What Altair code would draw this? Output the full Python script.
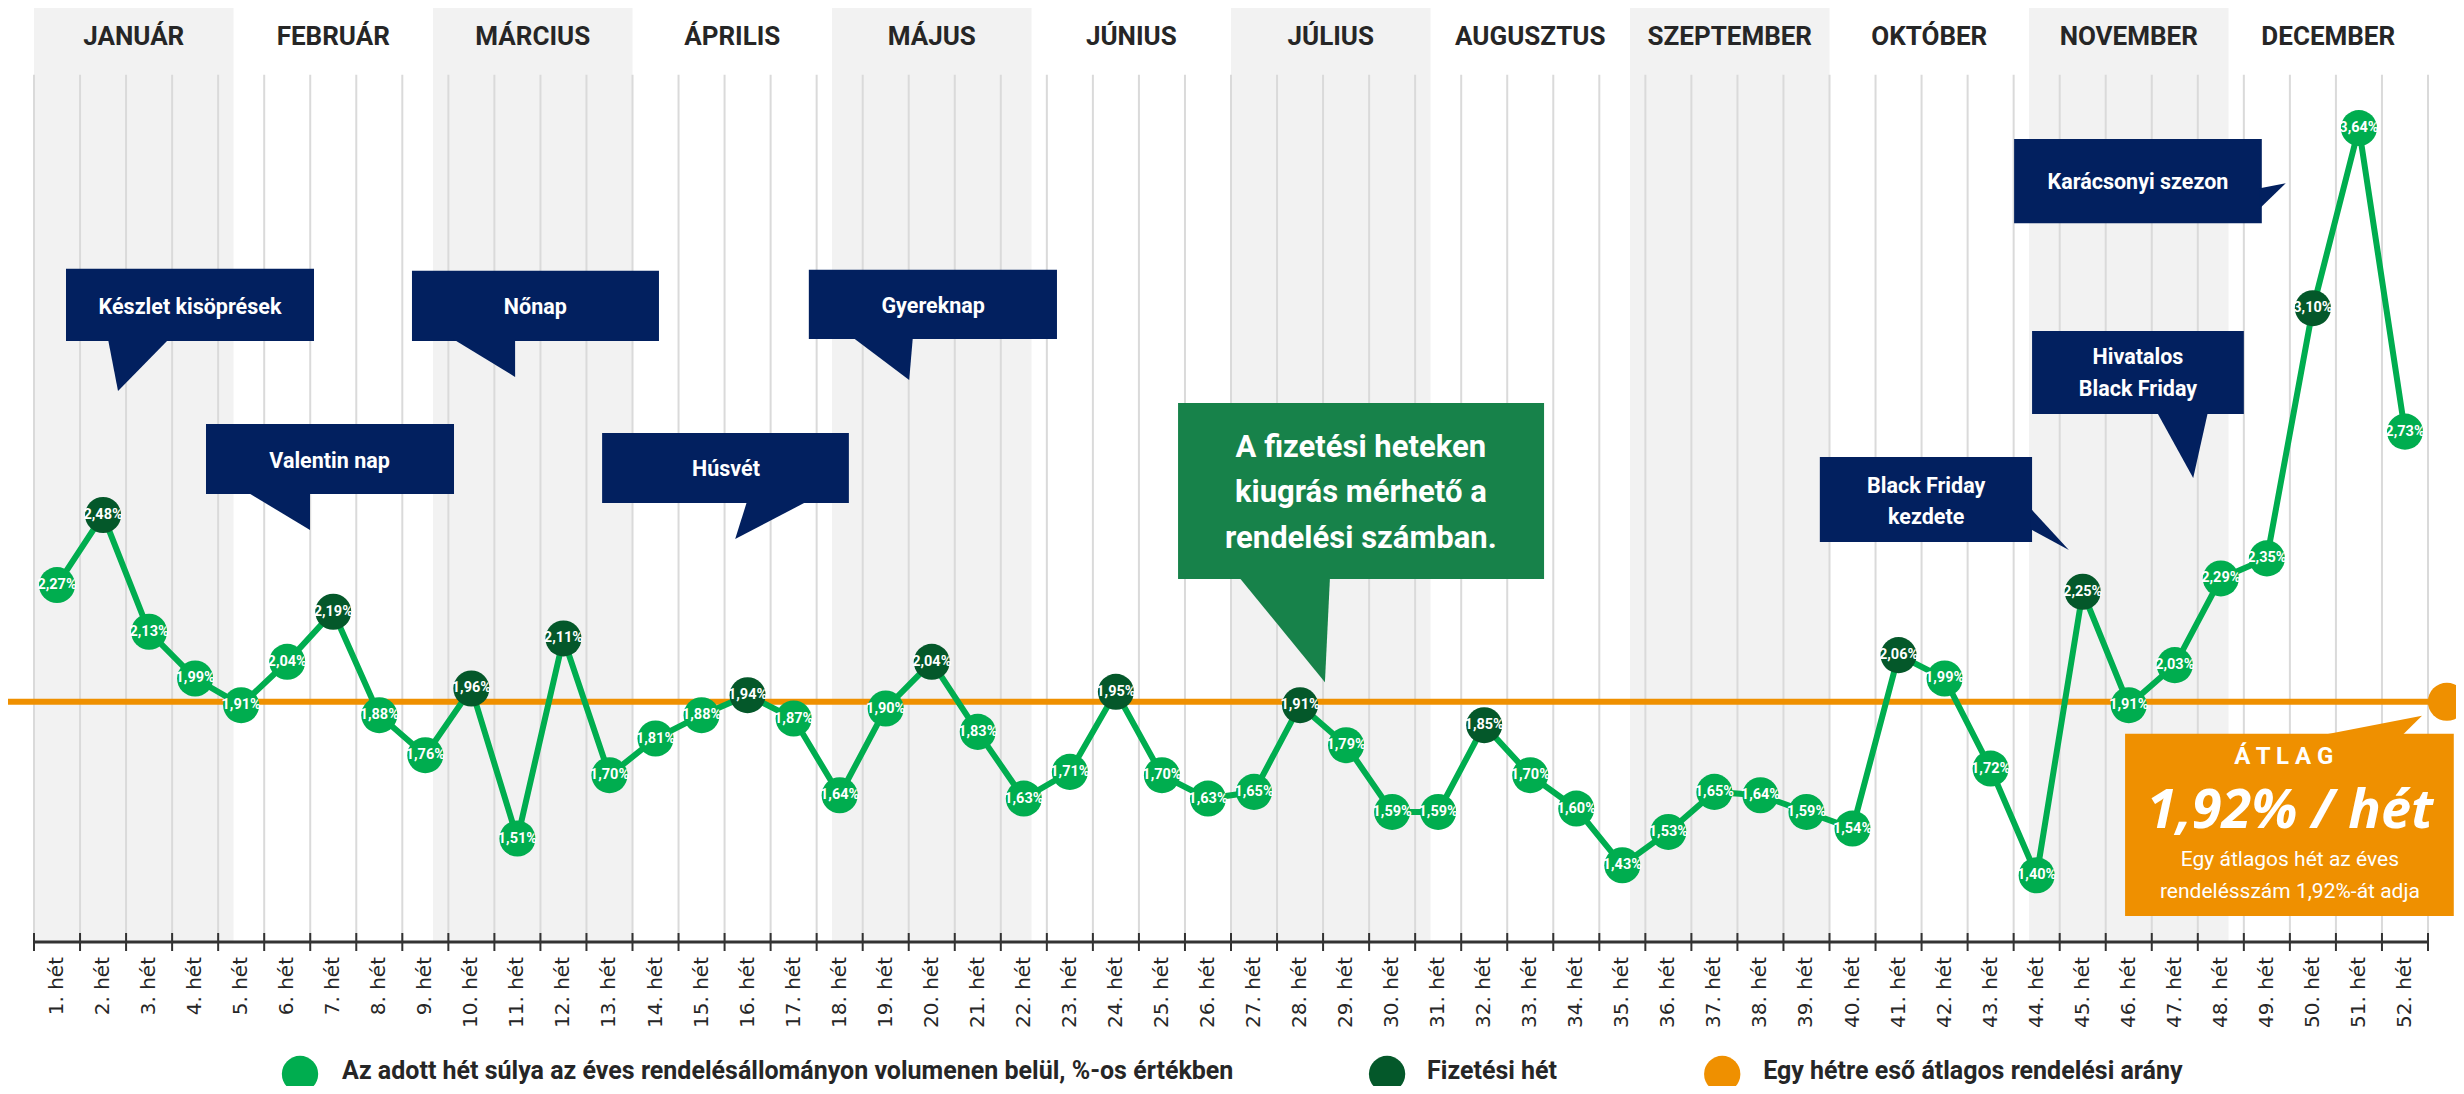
import altair as alt
import pandas as pd

# ---------------- data ----------------
weeks = list(range(1, 53))
values = [2.27, 2.48, 2.13, 1.99, 1.91, 2.04, 2.19, 1.88, 1.76, 1.96,
          1.51, 2.11, 1.70, 1.81, 1.88, 1.94, 1.87, 1.64, 1.90, 2.04,
          1.83, 1.63, 1.71, 1.95, 1.70, 1.63, 1.65, 1.91, 1.79, 1.59,
          1.59, 1.85, 1.70, 1.60, 1.43, 1.53, 1.65, 1.64, 1.59, 1.54,
          2.06, 1.99, 1.72, 1.40, 2.25, 1.91, 2.03, 2.29, 2.35, 3.10,
          3.64, 2.73]
payday_weeks = [2, 7, 10, 12, 16, 20, 24, 28, 32, 41, 45, 50]
months = ["JANUÁR", "FEBRUÁR", "MÁRCIUS", "ÁPRILIS", "MÁJUS", "JÚNIUS",
          "JÚLIUS", "AUGUSZTUS", "SZEPTEMBER", "OKTÓBER", "NOVEMBER", "DECEMBER"]
average = 1.92
legend_labels = ["Az adott hét súlya az éves rendelésállományon volumenen belül, %-os értékben",
                 "Fizetési hét",
                 "Egy hétre eső átlagos rendelési arány"]

# annotation texts (anchored in data units: week, value)
navy_boxes = [  # id, x1, x2, ytop, ybottom
    ("k", 1.195, 6.582, 3.218, 3.002),
    ("v", 4.236, 9.623, 2.753, 2.543),
    ("n", 8.71, 14.075, 3.212, 3.002),
    ("h", 12.84, 18.20, 2.726, 2.516),
    ("g", 17.33, 22.72, 3.215, 3.008),
    ("bf", 39.29, 43.90, 2.654, 2.399),
    ("hbf", 43.90, 48.50, 3.032, 2.783),
    ("ks", 43.51, 48.89, 3.607, 3.355),
]
navy_ptr_h = [  # id, y, xleft, xright  (base row, then tip row)
    ("k", 3.008, 2.107, 3.432), ("k", 2.852, 2.325, 2.325),
    ("v", 2.549, 5.127, 6.495), ("v", 2.435, 6.495, 6.495),
    ("n", 3.008, 9.60, 10.95), ("n", 2.894, 10.95, 10.95),
    ("h", 2.522, 15.99, 17.31), ("h", 2.408, 15.73, 15.73),
    ("g", 3.014, 18.27, 19.59), ("g", 2.885, 19.51, 19.51),
    ("hbf", 2.789, 46.61, 47.72), ("hbf", 2.591, 47.40, 47.40),
]
navy_ptr_v = [  # id, x, ylow, yhigh
    ("bf", 43.86, 2.438, 2.501), ("bf", 44.70, 2.375, 2.375),
    ("ks", 48.85, 3.400, 3.460), ("ks", 49.41, 3.475, 3.475),
]
navy_texts = [
    ("Készlet kisöprések", 3.888, 3.101),
    ("Valentin nap", 6.92, 2.640),
    ("Nőnap", 11.39, 3.101),
    ("Húsvét", 15.53, 2.615),
    ("Gyereknap", 20.03, 3.105),
    ("Black Friday", 41.60, 2.564),
    ("kezdete", 41.60, 2.471),
    ("Hivatalos", 46.20, 2.951),
    ("Black Friday", 46.20, 2.855),
    ("Karácsonyi szezon", 46.20, 3.475),
]
green_box = [("gr", 25.35, 33.30, 2.816, 2.288)]
green_ptr = [("gr", 2.294, 26.67, 28.65), ("gr", 1.979, 28.54, 28.54)]
green_texts = [
    ("A fizetési heteken", 29.32, 2.681),
    ("kiugrás mérhető a", 29.32, 2.546),
    ("rendelési számban.", 29.32, 2.408),
]
orange_box = [("or", 45.92, 53.06, 1.824, 1.278)]
orange_ptr = [("or", 1.818, 50.13, 51.93), ("or", 1.878, 52.37, 52.37)]
avg_line = {"x": -0.087, "x2": 52.91}

# ---------------- style ----------------
LIGHT = "#00ad4f"
DARK = "#04582a"
ORANGE = "#ef9000"
NAVY = "#02205f"
CALLGREEN = "#17824a"
BAND = "#f2f2f2"
GRID = "#dadada"
INK = "#262626"
NARROW = "Roboto"

W, H = 2394, 934
XS = alt.Scale(domain=[0.5, 52.5], nice=False, zero=False)
YS = alt.Scale(domain=[1.2, 4.0], nice=False, zero=False)
CS = alt.Scale(domain=["normal", "payday", "avg"], range=[LIGHT, DARK, ORANGE])


def fx(f):
    return alt.X(f, type="quantitative", scale=XS, axis=None)


def fy(f):
    return alt.Y(f, type="quantitative", scale=YS, axis=None)


# ---------------- tables ----------------
df = pd.DataFrame({"week": weeks, "value": values})
df["kind"] = ["payday" if w in payday_weeks else "normal" for w in weeks]
df["label"] = [f"{v:.2f}".replace(".", ",") + "%" for v in values]
df["tick_label"] = [f"{w}. hét" for w in weeks]

mw = 52 / 12
months_df = pd.DataFrame({
    "month": months,
    "start": [0.5 + i * mw for i in range(12)],
    "end": [0.5 + (i + 1) * mw for i in range(12)],
    "center": [0.5 + (i + 0.5) * mw for i in range(12)],
    "shaded": [i % 2 == 0 for i in range(12)],
    "top": 4.0, "bottom": 1.2,
})
grid_df = pd.DataFrame({"edge": [0.5 + i for i in range(53)], "top": 3.8, "bottom": 1.2})
axis_df = pd.DataFrame({"x1": [0.5], "x2": [52.5]})
avg_df = pd.DataFrame({"x": [avg_line["x"]], "x2": [avg_line["x2"]], "y": [average], "kind": ["avg"]})
legend_df = pd.DataFrame({"label": legend_labels, "kind": ["normal", "payday", "avg"],
                          "cx": [6.278, 29.89, 37.17], "tx": [7.19, 30.76, 38.06]})


def boxes(rows, color):
    d = pd.DataFrame(rows, columns=["id", "x1", "x2", "y1", "y2"])
    return alt.Chart(d).mark_rect(color=color).encode(x=fx("x1"), x2="x2", y=fy("y1"), y2="y2")


def ptr_h(rows, color):
    d = pd.DataFrame(rows, columns=["id", "y", "xl", "xr"])
    return alt.Chart(d).mark_area(color=color, orient="horizontal", opacity=1).encode(
        y=fy("y"), x=fx("xl"), x2="xr", detail="id:N")


def ptr_v(rows, color):
    d = pd.DataFrame(rows, columns=["id", "x", "yl", "yh"])
    return alt.Chart(d).mark_area(color=color, orient="vertical", opacity=1).encode(
        x=fx("x"), y=fy("yl"), y2="yh", detail="id:N")


def texts(rows, size, **kw):
    d = pd.DataFrame(rows, columns=["t", "x", "y"])
    props = dict(font=NARROW, fontWeight="bold", fontSize=size, color="white",
                 align="center", baseline="middle")
    props.update(kw)
    return alt.Chart(d).mark_text(**props).encode(x=fx("x"), y=fy("y"), text="t:N")


# ---------------- layers ----------------
bands = alt.Chart(months_df[months_df["shaded"]]).mark_rect(color=BAND).encode(
    x=fx("start"), x2="end", y=fy("top"), y2="bottom")
grid = alt.Chart(grid_df).mark_rule(color=GRID, strokeWidth=2).encode(
    x=fx("edge"), y=fy("top"), y2="bottom")
month_text = alt.Chart(months_df).mark_text(
    font=NARROW, fontWeight="bold", fontSize=26, color=INK, baseline="middle").encode(
    x=fx("center"), y=alt.value(29), text="month:N")

axis_line = alt.Chart(axis_df).mark_rule(color="#333333", strokeWidth=3).encode(
    x=fx("x1"), x2="x2", y=alt.value(934))
ticks = alt.Chart(grid_df).mark_rule(color="#333333", strokeWidth=2).encode(
    x=fx("edge"), y=alt.value(925), y2=alt.value(943))
tick_labels = alt.Chart(df).mark_text(
    font="DejaVu Sans", fontSize=20, color=INK, angle=270, align="right", baseline="middle").encode(
    x=fx("week"), y=alt.value(949), text="tick_label:N")

avg_rule = alt.Chart(avg_df).mark_rule(color=ORANGE, strokeWidth=6, strokeCap="round").encode(
    x=fx("x"), x2="x2", y=fy("y"))
avg_dot = alt.Chart(avg_df).mark_circle(size=1450, opacity=1, color=ORANGE).encode(
    x=fx("x2"), y=fy("y"))

line = alt.Chart(df).mark_line(color=LIGHT, strokeWidth=6).encode(x=fx("week"), y=fy("value"))
dots = alt.Chart(df).mark_circle(size=1300, opacity=1).encode(
    x=fx("week"), y=fy("value"), color=alt.Color("kind:N", scale=CS, legend=None))
dot_labels = alt.Chart(df).mark_text(
    font=NARROW, fontWeight="bold", fontSize=14.5, color="white", baseline="middle").encode(
    x=fx("week"), y=fy("value"), text="label:N")

orange_texts = alt.layer(
    texts([("Á T L A G", 49.37, 1.754)], 24),
    texts([("1,92% / hét", 49.50, 1.590)], 54, font="Open Sans", fontStyle="italic"),
    texts([("Egy átlagos hét az éves", 49.50, 1.446),
           ("rendelésszám 1,92%-át adja", 49.50, 1.350)], 21, fontWeight="normal"),
)

legend_dots = alt.Chart(legend_df).mark_circle(size=1320, opacity=1).encode(
    x=fx("cx"), y=alt.value(1066), color=alt.Color("kind:N", scale=CS, legend=None))
legend_text = alt.Chart(legend_df).mark_text(
    font=NARROW, fontWeight="bold", fontSize=25, color=INK, align="left", baseline="middle").encode(
    x=fx("tx"), y=alt.value(1063), text="label:N")

chart = alt.layer(
    bands, grid, month_text,
    boxes(navy_boxes, NAVY), ptr_h(navy_ptr_h, NAVY), ptr_v(navy_ptr_v, NAVY),
    boxes(green_box, CALLGREEN), ptr_h(green_ptr, CALLGREEN),
    texts(navy_texts, 21.5), texts(green_texts, 31),
    axis_line, ticks, tick_labels,
    avg_rule, avg_dot,
    boxes(orange_box, ORANGE), ptr_h(orange_ptr, ORANGE), orange_texts,
    line, dots, dot_labels,
    legend_dots, legend_text,
).properties(
    width=W, height=H,
    autosize=alt.AutoSizeParams(type="none"),
    padding={"left": 26, "top": 0, "right": 28, "bottom": 144},
    background="white",
).configure_view(stroke="transparent")

chart.save("out.html", embed_options={"renderer": "svg", "actions": False})
